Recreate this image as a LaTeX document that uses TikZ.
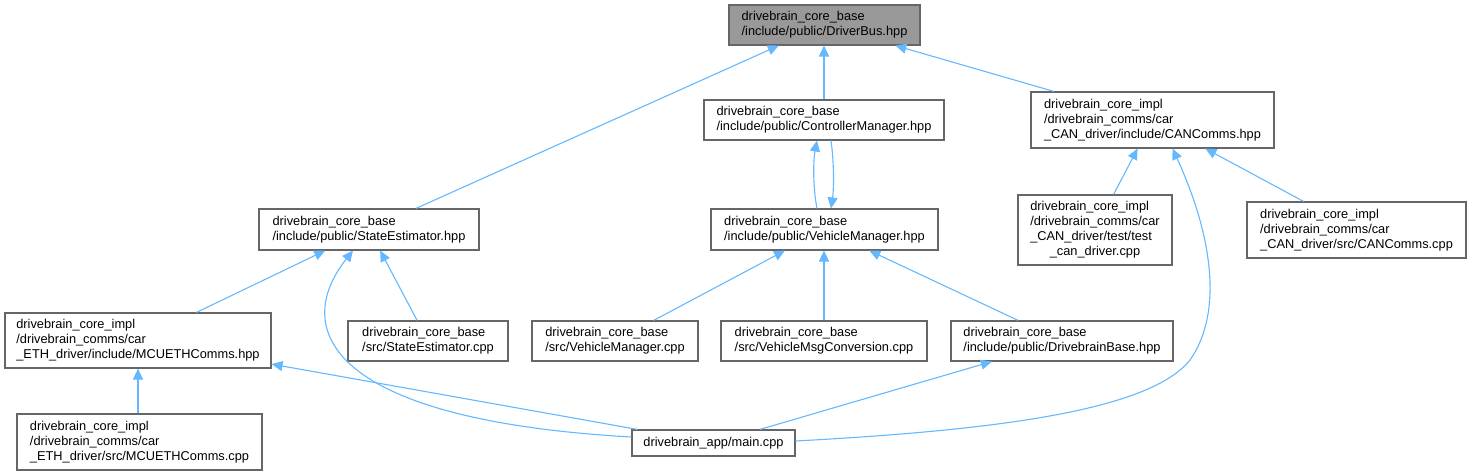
\documentclass[tikz,border=0pt]{standalone}
\usepackage{fontspec}
\setmainfont{Liberation Sans}
\usetikzlibrary{arrows.meta}
\definecolor{edgeblue}{HTML}{63B8FF}
\definecolor{boxgray}{HTML}{666666}
\definecolor{fillgray}{HTML}{999999}
\tikzset{
  box/.style={draw=boxgray, line width=1.1pt, fill=white, align=left, inner sep=0pt,
    font=\fontsize{12.8}{15}\selectfont, text=black},
  edge/.style={draw=edgeblue, line width=1.1pt, -{Triangle[length=11pt,width=10pt]}}
}
\begin{document}
\begin{tikzpicture}[x=1pt,y=-1pt]
\useasboundingbox (0,0) rectangle (1471,476);
% nodes
\node[box, fill=fillgray, minimum width=191pt, minimum height=40pt] (DB) at (824.5,25) {drivebrain\_core\_base\\/include/public/DriverBus.hpp};
\node[box, minimum width=240pt, minimum height=40pt] (CM) at (824,120) {drivebrain\_core\_base\\/include/public/ControllerManager.hpp};
\node[box, minimum width=243pt, minimum height=56pt] (CANh) at (1152.5,120) {drivebrain\_core\_impl\\/drivebrain\_comms/car\\\_CAN\_driver/include/CANComms.hpp};
\node[box, minimum width=220pt, minimum height=41pt] (SEh) at (369,229.5) {drivebrain\_core\_base\\/include/public/StateEstimator.hpp};
\node[box, minimum width=227pt, minimum height=41pt] (VMh) at (824.5,229.5) {drivebrain\_core\_base\\/include/public/VehicleManager.hpp};
\node[box, minimum width=154pt, minimum height=70pt] (TC) at (1095,230) {\renewcommand{\arraystretch}{1}\begin{tabular}{@{}l@{}}drivebrain\_core\_impl\\/drivebrain\_comms/car\\\_CAN\_driver/test/test\\\multicolumn{1}{@{}c@{}}{\_can\_driver.cpp}\end{tabular}};
\node[box, minimum width=219pt, minimum height=56pt] (CANc) at (1356.5,230) {drivebrain\_core\_impl\\/drivebrain\_comms/car\\\_CAN\_driver/src/CANComms.cpp};
\node[box, minimum width=266pt, minimum height=55pt] (MCUh) at (138,340.5) {drivebrain\_core\_impl\\/drivebrain\_comms/car\\\_ETH\_driver/include/MCUETHComms.hpp};
\node[box, minimum width=160pt, minimum height=40pt] (SEc) at (428,341) {drivebrain\_core\_base\\/src/StateEstimator.cpp};
\node[box, minimum width=166pt, minimum height=40pt] (VMc) at (615,341) {drivebrain\_core\_base\\/src/VehicleManager.cpp};
\node[box, minimum width=206pt, minimum height=40pt] (VMC) at (824,341) {drivebrain\_core\_base\\/src/VehicleMsgConversion.cpp};
\node[box, minimum width=222pt, minimum height=40pt] (DBB) at (1062,341) {drivebrain\_core\_base\\/include/public/DrivebrainBase.hpp};
\node[box, minimum width=245pt, minimum height=56pt] (MCUc) at (139.5,442) {drivebrain\_core\_impl\\/drivebrain\_comms/car\\\_ETH\_driver/src/MCUETHComms.cpp};
\node[box, minimum width=163pt, minimum height=26pt] (main) at (713.5,443) {drivebrain\_app/main.cpp};
% edges
\draw[edge] (SEh) -- (DB);
\draw[edge] (CM.north) -- ([xshift=-0.5pt]DB.south);
\draw[edge] (CANh) -- (DB);
\draw[edge] ([xshift=-7.5pt]VMh.north) .. controls (813,188) and (813,162) .. ([xshift=-7pt]CM.south);
\draw[edge] ([xshift=7pt]CM.south) .. controls (834,162) and (834,188) .. ([xshift=6.5pt]VMh.north);
\draw[edge] (MCUh) -- (SEh);
\draw[edge] (SEc) -- (SEh);
\draw[edge] ([yshift=6pt]main.west) .. controls (330,420) and (290,330) .. ([xshift=-16pt]SEh.south);
\draw[edge] ([xshift=-1.5pt]MCUc.north) -- (MCUh.south);
\draw[edge] (main) -- (MCUh);
\draw[edge] (VMc) -- (VMh);
\draw[edge] (VMC.north) -- ([xshift=-0.5pt]VMh.south);
\draw[edge] (DBB) -- (VMh);
\draw[edge] (main) -- (DBB);
\draw[edge] (TC) -- (CANh);
\draw[edge] (CANc) -- (CANh);
\draw[edge] ([yshift=2pt]main.east) .. controls (1000,430) and (1150,410) .. (1190,360) .. controls (1225,310) and (1210,230) .. ([xshift=20pt]CANh.south);
\end{tikzpicture}
\end{document}
